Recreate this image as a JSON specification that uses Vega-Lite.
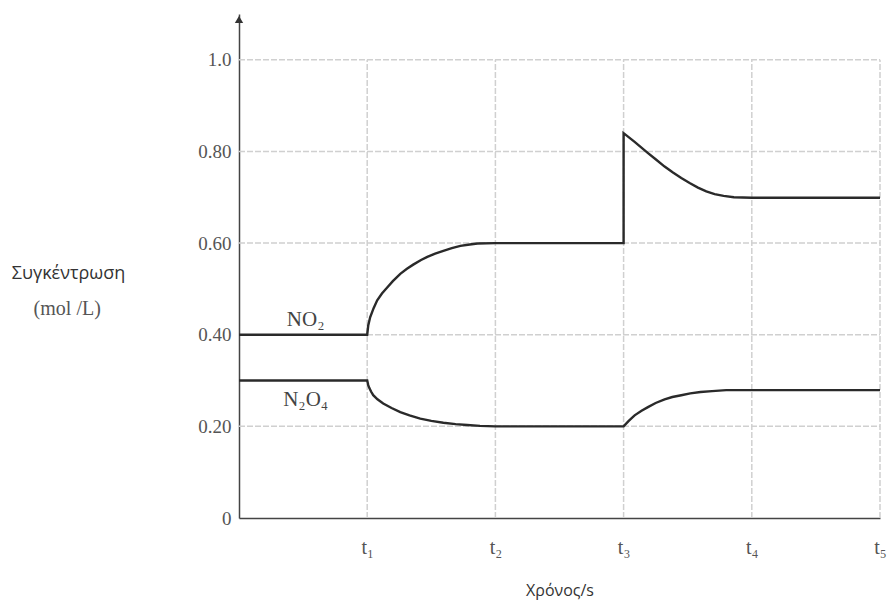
{
  "$schema": "https://vega.github.io/schema/vega-lite/v6.json",
  "width": 641,
  "height": 504,
  "autosize": {"type": "none"},
  "padding": {"left": 239, "top": 14, "right": 10, "bottom": 86},
  "background": "white",
  "config": {"view": {"stroke": null}},
  "datasets": {
    "curves": [
      {"series": "NO2", "i": 0, "t": 0, "v": 0.40},
      {"series": "NO2", "i": 1, "t": 1, "v": 0.40},
      {"series": "NO2", "i": 2, "t": 1.008, "v": 0.42},
      {"series": "NO2", "i": 3, "t": 1.023, "v": 0.438},
      {"series": "NO2", "i": 4, "t": 1.05, "v": 0.458},
      {"series": "NO2", "i": 5, "t": 1.078, "v": 0.475},
      {"series": "NO2", "i": 6, "t": 1.115, "v": 0.490},
      {"series": "NO2", "i": 7, "t": 1.156, "v": 0.503},
      {"series": "NO2", "i": 8, "t": 1.2, "v": 0.517},
      {"series": "NO2", "i": 9, "t": 1.258, "v": 0.533},
      {"series": "NO2", "i": 10, "t": 1.31, "v": 0.544},
      {"series": "NO2", "i": 11, "t": 1.359, "v": 0.553},
      {"series": "NO2", "i": 12, "t": 1.42, "v": 0.563},
      {"series": "NO2", "i": 13, "t": 1.469, "v": 0.570},
      {"series": "NO2", "i": 14, "t": 1.53, "v": 0.577},
      {"series": "NO2", "i": 15, "t": 1.594, "v": 0.583},
      {"series": "NO2", "i": 16, "t": 1.66, "v": 0.589},
      {"series": "NO2", "i": 17, "t": 1.727, "v": 0.594},
      {"series": "NO2", "i": 18, "t": 1.8, "v": 0.597},
      {"series": "NO2", "i": 19, "t": 1.86, "v": 0.599},
      {"series": "NO2", "i": 20, "t": 2, "v": 0.60},
      {"series": "NO2", "i": 21, "t": 3, "v": 0.60},
      {"series": "NO2", "i": 22, "t": 3, "v": 0.84},
      {"series": "NO2", "i": 23, "t": 3.086, "v": 0.821},
      {"series": "NO2", "i": 24, "t": 3.188, "v": 0.797},
      {"series": "NO2", "i": 25, "t": 3.25, "v": 0.783},
      {"series": "NO2", "i": 26, "t": 3.32, "v": 0.767},
      {"series": "NO2", "i": 27, "t": 3.385, "v": 0.754},
      {"series": "NO2", "i": 28, "t": 3.45, "v": 0.742},
      {"series": "NO2", "i": 29, "t": 3.515, "v": 0.731},
      {"series": "NO2", "i": 30, "t": 3.58, "v": 0.721},
      {"series": "NO2", "i": 31, "t": 3.645, "v": 0.713},
      {"series": "NO2", "i": 32, "t": 3.71, "v": 0.707},
      {"series": "NO2", "i": 33, "t": 3.78, "v": 0.703},
      {"series": "NO2", "i": 34, "t": 3.86, "v": 0.700},
      {"series": "NO2", "i": 35, "t": 4, "v": 0.699},
      {"series": "NO2", "i": 36, "t": 5, "v": 0.699},
      {"series": "N2O4", "i": 0, "t": 0, "v": 0.30},
      {"series": "N2O4", "i": 1, "t": 1, "v": 0.30},
      {"series": "N2O4", "i": 2, "t": 1.008, "v": 0.29},
      {"series": "N2O4", "i": 3, "t": 1.016, "v": 0.284},
      {"series": "N2O4", "i": 4, "t": 1.03, "v": 0.276},
      {"series": "N2O4", "i": 5, "t": 1.047, "v": 0.268},
      {"series": "N2O4", "i": 6, "t": 1.08, "v": 0.259},
      {"series": "N2O4", "i": 7, "t": 1.125, "v": 0.250},
      {"series": "N2O4", "i": 8, "t": 1.19, "v": 0.240},
      {"series": "N2O4", "i": 9, "t": 1.258, "v": 0.231},
      {"series": "N2O4", "i": 10, "t": 1.33, "v": 0.224},
      {"series": "N2O4", "i": 11, "t": 1.414, "v": 0.217},
      {"series": "N2O4", "i": 12, "t": 1.5, "v": 0.212},
      {"series": "N2O4", "i": 13, "t": 1.594, "v": 0.208},
      {"series": "N2O4", "i": 14, "t": 1.69, "v": 0.205},
      {"series": "N2O4", "i": 15, "t": 1.78, "v": 0.203},
      {"series": "N2O4", "i": 16, "t": 1.88, "v": 0.201},
      {"series": "N2O4", "i": 17, "t": 2, "v": 0.20},
      {"series": "N2O4", "i": 18, "t": 3, "v": 0.20},
      {"series": "N2O4", "i": 19, "t": 3.04, "v": 0.212},
      {"series": "N2O4", "i": 20, "t": 3.086, "v": 0.224},
      {"series": "N2O4", "i": 21, "t": 3.14, "v": 0.234},
      {"series": "N2O4", "i": 22, "t": 3.19, "v": 0.242},
      {"series": "N2O4", "i": 23, "t": 3.25, "v": 0.251},
      {"series": "N2O4", "i": 24, "t": 3.32, "v": 0.259},
      {"series": "N2O4", "i": 25, "t": 3.38, "v": 0.264},
      {"series": "N2O4", "i": 26, "t": 3.45, "v": 0.268},
      {"series": "N2O4", "i": 27, "t": 3.52, "v": 0.272},
      {"series": "N2O4", "i": 28, "t": 3.6, "v": 0.275},
      {"series": "N2O4", "i": 29, "t": 3.69, "v": 0.277},
      {"series": "N2O4", "i": 30, "t": 3.8, "v": 0.279},
      {"series": "N2O4", "i": 31, "t": 4, "v": 0.279},
      {"series": "N2O4", "i": 32, "t": 5, "v": 0.279}
    ],
    "grid": [
      {"x": 1, "x2": 1, "y": 0, "y2": 1.0},
      {"x": 2, "x2": 2, "y": 0, "y2": 1.0},
      {"x": 3, "x2": 3, "y": 0, "y2": 1.0},
      {"x": 4, "x2": 4, "y": 0, "y2": 1.0},
      {"x": 5, "x2": 5, "y": 0, "y2": 1.0},
      {"x": 0, "x2": 5, "y": 0.2, "y2": 0.2},
      {"x": 0, "x2": 5, "y": 0.4, "y2": 0.4},
      {"x": 0, "x2": 5, "y": 0.6, "y2": 0.6},
      {"x": 0, "x2": 5, "y": 0.8, "y2": 0.8},
      {"x": 0, "x2": 5, "y": 1.0, "y2": 1.0}
    ],
    "labels": [
      {"t": 0.52, "v": 0.432, "label": "NO₂"},
      {"t": 0.52, "v": 0.257, "label": "N₂O₄"}
    ],
    "unit": [
      {"t": -1.34, "v": 0.457, "label": "(mol /L)"}
    ],
    "arrow": [
      {"t": 0, "v": 1.088}
    ]
  },
  "layer": [
    {
      "data": {"name": "grid"},
      "mark": {"type": "rule", "stroke": "#d0d0d0", "strokeWidth": 1.5, "strokeDash": [6, 2]},
      "encoding": {
        "x": {"field": "x", "type": "quantitative", "scale": {"domain": [0, 5], "nice": false, "zero": false},
          "axis": {
            "values": [1, 2, 3, 4, 5],
            "labelExpr": "['t₀','t₁','t₂','t₃','t₄','t₅'][datum.value]",
            "grid": false, "ticks": false,
            "domainColor": "#444", "domainWidth": 1.5,
            "labelFont": "Liberation Serif", "labelFontSize": 20, "labelColor": "#555",
            "labelPadding": 19, "labelFlush": false,
            "title": "Χρόνος/s", "titleFont": "Open Sans", "titleFontSize": 16, "titleFontWeight": "normal",
            "titleColor": "#333", "titleY": 72, "titleBaseline": "middle"
          }},
        "x2": {"field": "x2"},
        "y": {"field": "y", "type": "quantitative", "scale": {"domain": [0, 1.1], "nice": false},
          "axis": {
            "values": [0, 0.2, 0.4, 0.6, 0.8, 1.0],
            "labelExpr": "datum.value == 0 ? '0' : (datum.value == 1 ? '1.0' : format(datum.value, '.2f'))",
            "grid": false, "ticks": false,
            "domainColor": "#444", "domainWidth": 1.5,
            "labelFont": "Liberation Serif", "labelFontSize": 19, "labelColor": "#555",
            "labelPadding": 8,
            "title": "Συγκέντρωση", "titleFont": "Open Sans", "titleFontSize": 18, "titleFontWeight": "normal",
            "titleColor": "#333", "titleAngle": 0, "titleX": -171, "titleY": 259,
            "titleAlign": "center", "titleBaseline": "middle"
          }},
        "y2": {"field": "y2"}
      }
    },
    {
      "data": {"name": "curves"},
      "mark": {"type": "line", "stroke": "#2a2a2a", "strokeWidth": 2.4, "interpolate": "linear"},
      "encoding": {
        "x": {"field": "t", "type": "quantitative"},
        "y": {"field": "v", "type": "quantitative"},
        "detail": {"field": "series"},
        "order": {"field": "i", "type": "quantitative"}
      }
    },
    {
      "data": {"name": "labels"},
      "mark": {"type": "text", "font": "Liberation Serif", "fontSize": 21, "color": "#444", "align": "center", "baseline": "middle"},
      "encoding": {
        "x": {"field": "t", "type": "quantitative"},
        "y": {"field": "v", "type": "quantitative"},
        "text": {"field": "label"}
      }
    },
    {
      "data": {"name": "unit"},
      "mark": {"type": "text", "font": "Liberation Serif", "fontSize": 20, "color": "#555", "align": "center", "baseline": "middle"},
      "encoding": {
        "x": {"field": "t", "type": "quantitative"},
        "y": {"field": "v", "type": "quantitative"},
        "text": {"field": "label"}
      }
    },
    {
      "data": {"name": "arrow"},
      "mark": {"type": "point", "shape": "triangle-up", "filled": true, "color": "#333", "size": 70, "opacity": 1},
      "encoding": {
        "x": {"field": "t", "type": "quantitative"},
        "y": {"field": "v", "type": "quantitative"}
      }
    }
  ]
}
